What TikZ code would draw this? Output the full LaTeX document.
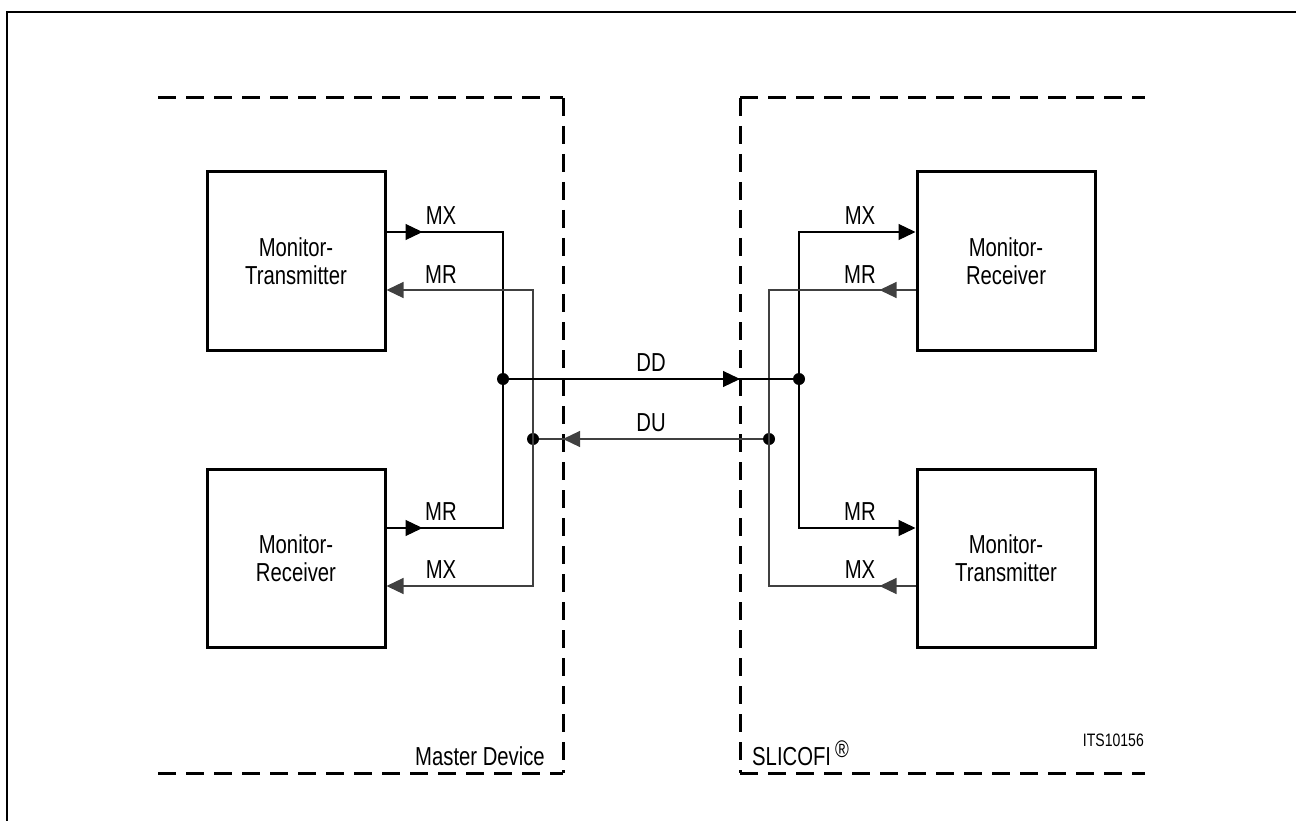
\documentclass[tikz,border=0pt]{standalone}
\usepackage{fontspec}
\setmainfont{Liberation Sans}[FakeStretch=0.78]
\usetikzlibrary{arrows.meta}
\begin{document}
\begin{tikzpicture}[x=1pt,y=-1pt,
  blk/.style={draw,line width=3pt,minimum width=178pt,minimum height=178pt,align=center,inner sep=0pt,font=\fontsize{26}{28}\selectfont},
  region/.style={line width=3pt,dash pattern=on 18pt off 10pt},
  conn/.style={line width=1.2pt},
  gconn/.style={line width=1.2pt,draw=black!75},
  tip/.style={-{Triangle[length=17pt,width=16pt]}},
  btip/.style={{Triangle[length=17pt,width=16pt]}-{Triangle[length=17pt,width=16pt]}},
  lbl/.style={font=\fontsize{26}{28}\selectfont,inner sep=0pt},
  dot/.style={circle,fill,inner sep=0pt,minimum size=12pt}]
\useasboundingbox (0,0) rectangle (1296,821);
% outer frame
\draw[line width=2.5pt] (7,830) -- (7,12) -- (1300,12);
% regions
\draw[region] (158,98) -- (563,98);
\draw[region] (563,98) -- (563,773);
\draw[region] (158,773) -- (563,773);
\draw[region] (740,98) -- (1145,98);
\draw[region] (740,98) -- (740,773);
\draw[region] (740,773) -- (1145,773);
% blocks
\node[blk] (LT) at (296,261) {Monitor-\\Transmitter};
\node[blk] (LB) at (296,558) {Monitor-\\Receiver};
\node[blk] (RT) at (1006,261) {Monitor-\\Receiver};
\node[blk] (RB) at (1006,558) {Monitor-\\Transmitter};
% junction coordinates
\coordinate (a1) at (503,232);
\coordinate (a2) at (503,528);
\coordinate (b1) at (533,290);
\coordinate (b2) at (533,586);
\coordinate (c1) at (799,232);
\coordinate (c2) at (799,528);
\coordinate (e1) at (769,290);
\coordinate (e2) at (769,586);
\node[dot] (dL) at (503,379) {};
\node[dot] (uL) at (533,439) {};
\node[dot] (dR) at (799,379) {};
\node[dot] (uR) at (769,439) {};
\coordinate (ddtip) at (740,379);
\coordinate (dutip) at (563,439);
% left side
\draw[conn] (LT.east|-a1) -- (a1) -- (a2) -- (LB.east|-a2);
\draw[conn,tip] (LT.east|-a1) -- ++(36,0);
\draw[conn,tip] (LB.east|-a2) -- ++(36,0);
\draw[gconn,btip] (LT.east|-b1) -- (b1) -- (b2) -- (LB.east|-b2);
% right side
\draw[conn,btip] (RT.west|-c1) -- (c1) -- (c2) -- (RB.west|-c2);
\draw[gconn] (RT.west|-e1) -- (e1) -- (e2) -- (RB.west|-e2);
\draw[gconn,tip] (RT.west|-e1) -- ++(-36,0);
\draw[gconn,tip] (RB.west|-e2) -- ++(-36,0);
% DD / DU
\draw[conn] (dL) -- (dR);
\draw[conn,tip] (dL) -- (ddtip);
\draw[gconn] (uR) -- (uL);
\draw[gconn,tip] (uR) -- (dutip);
% labels
\node[lbl] at (441,216) {MX};
\node[lbl] at (441,275) {MR};
\node[lbl] at (441,512) {MR};
\node[lbl] at (441,570) {MX};
\node[lbl] at (860,216) {MX};
\node[lbl] at (860,275) {MR};
\node[lbl] at (860,512) {MR};
\node[lbl] at (860,570) {MX};
\node[lbl] at (651,363) {DD};
\node[lbl] at (651,423) {DU};
\node[lbl,anchor=base east] at (545,765) {Master Device};
\node[lbl,anchor=base west] at (752,765) {SLICOFI\hspace{4pt}\raisebox{8pt}{\fontsize{24}{24}\selectfont\textregistered}};
\node[font=\fontsize{18}{20}\selectfont,inner sep=0pt,anchor=base east] at (1144,746) {ITS10156};
\end{tikzpicture}
\end{document}
